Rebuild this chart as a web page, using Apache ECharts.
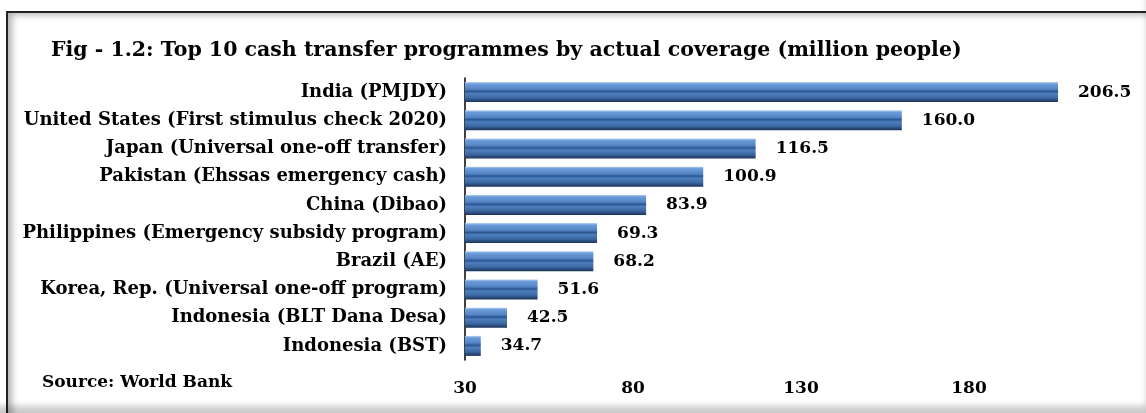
<!DOCTYPE html>
<html>
<head>
<meta charset="utf-8">
<script src="https://cdn.jsdelivr.net/npm/echarts@6/dist/echarts.min.js"></script>
<style>
  html, body { margin: 0; padding: 0; background: #fff; }
  #chart { position: absolute; left: 0; top: 0; width: 1146px; height: 413px; }
  #frame {
    position: absolute; left: 6px; top: 11px; width: 1150px; height: 410px;
    border-left: 2px solid #222; border-top: 2px solid #222;
    box-shadow: inset 7px 5px 7px -3px rgba(0,0,0,0.3);
    pointer-events: none;
  }
  #edge {
    position: absolute; left: 0; top: 0; width: 1146px; height: 413px;
    box-shadow: inset -4px -12px 7px -5px rgba(0,0,0,0.22);
    pointer-events: none;
  }
</style>
</head>
<body>
<div id="chart"></div>
<div id="frame"></div>
<div id="edge"></div>
<script>
var categories = [
  'India (PMJDY)',
  'United States (First stimulus check 2020)',
  'Japan (Universal one-off transfer)',
  'Pakistan (Ehssas emergency cash)',
  'China (Dibao)',
  'Philippines (Emergency subsidy program)',
  'Brazil (AE)',
  'Korea, Rep. (Universal one-off program)',
  'Indonesia (BLT Dana Desa)',
  'Indonesia (BST)'
];
var coverage = [206.5, 160.0, 116.5, 100.9, 83.9, 69.3, 68.2, 51.6, 42.5, 34.7];
var axisMin = 30;
var axisMax = 230;
var axisStep = 50;

var font = 'DejaVu Serif';
var chart = echarts.init(document.getElementById('chart'));

var barColor = new echarts.graphic.LinearGradient(0, 0, 0, 1, [
  { offset: 0, color: '#b3d0f2' },
  { offset: 0.1, color: '#6b9bd8' },
  { offset: 0.35, color: '#5385c6' },
  { offset: 0.47, color: '#2d5690' },
  { offset: 0.58, color: '#4d7fbf' },
  { offset: 0.8, color: '#3b66a0' },
  { offset: 1, color: '#1a3358' }
]);

var option = {
  animation: false,
  backgroundColor: '#fff',
  title: {
    text: 'Fig - 1.2: Top 10 cash transfer programmes by actual coverage (million people)',
    left: 46,
    top: 35,
    textStyle: { fontFamily: font, fontWeight: 'bold', fontSize: 20.5, color: '#000' }
  },
  graphic: [{
    type: 'text',
    left: 42,
    top: 374,
    style: { text: 'Source: World Bank', font: 'bold 17px "DejaVu Serif"', fill: '#000' }
  }],
  grid: { left: 465, right: 9, top: 78, bottom: 53 },
  xAxis: {
    type: 'value',
    min: axisMin,
    max: axisMax,
    interval: axisStep,
    axisLine: { show: false },
    axisTick: { show: false },
    splitLine: { show: false },
    axisLabel: {
      showMaxLabel: false,
      margin: 20,
      fontFamily: font, fontWeight: 'bold', fontSize: 17, color: '#000'
    }
  },
  yAxis: {
    type: 'category',
    inverse: true,
    data: categories,
    axisLine: { show: true, lineStyle: { color: '#000', width: 1.5 } },
    axisTick: { show: false },
    axisLabel: {
      margin: 18,
      fontFamily: font, fontWeight: 'bold', fontSize: 18, color: '#000'
    }
  },
  series: [{
    type: 'bar',
    data: coverage,
    barWidth: 20,
    itemStyle: { color: barColor },
    label: {
      show: true,
      position: 'right',
      distance: 20,
      formatter: function (p) { return p.value.toFixed(1); },
      fontFamily: font, fontWeight: 'bold', fontSize: 17, color: '#000'
    }
  }]
};
chart.setOption(option);
</script>
</body>
</html>
